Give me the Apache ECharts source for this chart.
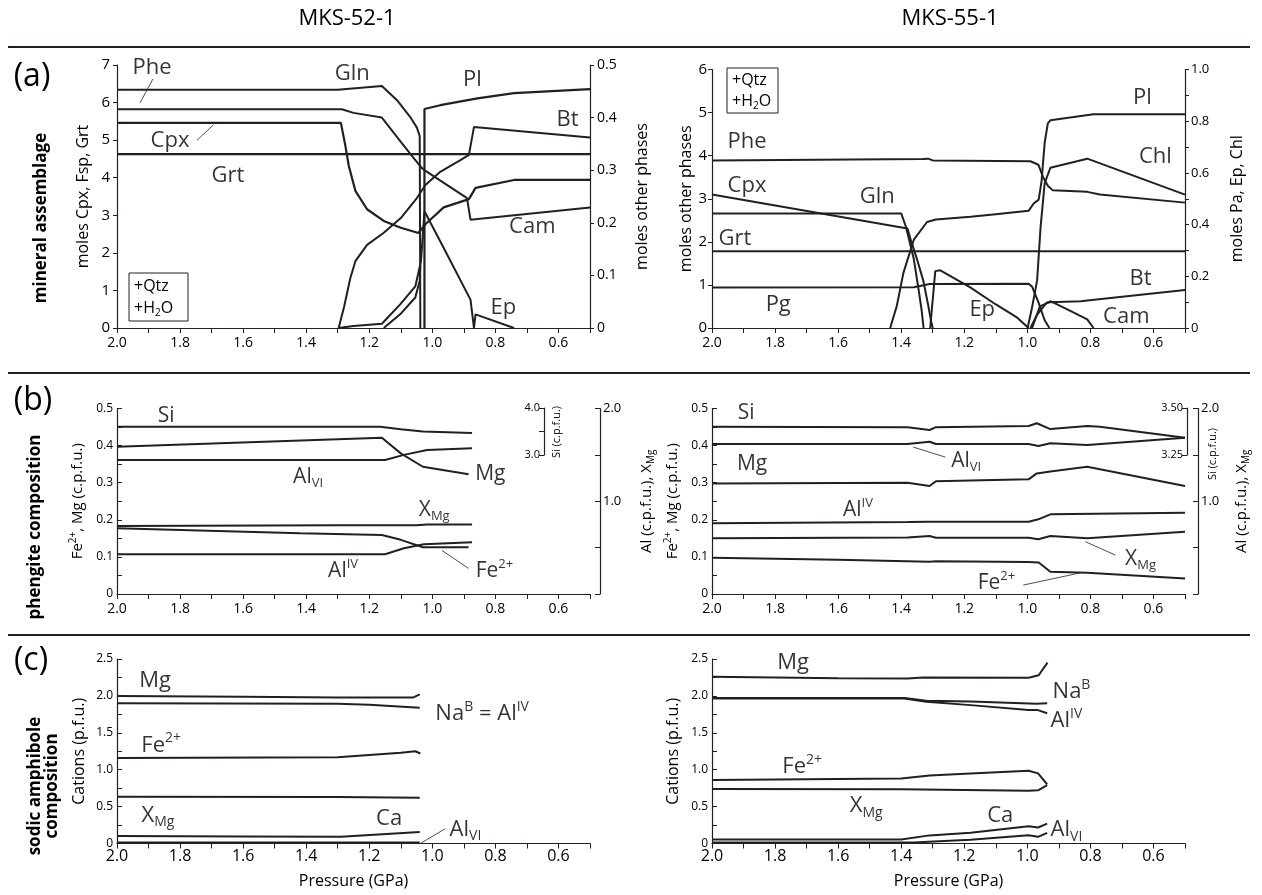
<!DOCTYPE html>
<html>
<head>
<meta charset="utf-8">
<title>MKS-52-1 / MKS-55-1</title>
<script src="https://cdn.jsdelivr.net/npm/echarts@6/dist/echarts.min.js"></script>
<style>
  html, body { margin: 0; padding: 0; background: #fff; }
  #chart { width: 1262px; height: 895px; }
</style>
</head>
<body>
<div id="chart"></div>
<script>
// pressure axis (GPa), shared by every panel
const pressureMin = 0.5;
const pressureMax = 2.0;

// (a) MKS-52-1  -- left axis: moles Cpx, Fsp, Grt / right axis: moles other phases
const a52Grt = [[2.0, 4.63], [0.5, 4.63]];
const a52Cpx = [[2.0, 5.46], [1.29, 5.46], [1.276, 4.86], [1.265, 4.32], [1.244, 3.65], [1.207, 3.16], [1.154, 2.85], [1.10, 2.67], [1.044, 2.53], [1.022, 2.76], [0.964, 3.21], [0.884, 3.43], [0.863, 3.73], [0.741, 3.94], [0.5, 3.94]];
const a52Pl = [[1.025, 0], [1.025, 5.83], [0.975, 5.93], [0.857, 6.11], [0.741, 6.25], [0.5, 6.36]];
const a52Gln = [[2.0, 0.453], [1.30, 0.453], [1.16, 0.46], [1.112, 0.433], [1.07, 0.401], [1.049, 0.381], [1.04, 0.365], [1.038, 0]];
const a52Phe = [[2.0, 0.416], [1.287, 0.416], [1.25, 0.409], [1.16, 0.40], [1.10, 0.354], [1.059, 0.323], [1.033, 0.304], [1.025, 0.30], [0.89, 0.247], [0.879, 0.206], [0.5, 0.229]];
const a52Bt = [[1.297, 0], [1.28, 0.04], [1.26, 0.095], [1.244, 0.127], [1.207, 0.158], [1.154, 0.181], [1.10, 0.209], [1.049, 0.247], [1.022, 0.272], [0.975, 0.297], [0.911, 0.319], [0.884, 0.329], [0.868, 0.382], [0.5, 0.362]];
const a52Cam = [[1.297, 0], [1.25, 0.004], [1.16, 0.008], [1.102, 0.045], [1.054, 0.079], [1.036, 0.127], [1.025, 0.222], [0.975, 0.165], [0.879, 0.054], [0.868, 0]];
const a52Amp = [[1.154, 0], [1.102, 0.026], [1.054, 0.058], [1.04, 0.09], [1.038, 0.12]];
const a52Ep = [[0.868, 0], [0.863, 0.026], [0.741, 0]];
const a52Labels = [[1.889, 6.92, 'Phe'], [1.832, 4.98, 'Cpx'], [1.648, 4.05, 'Grt'], [1.254, 6.76, 'Gln'], [0.873, 6.6, 'Pl'], [0.571, 5.54, 'Bt'], [0.683, 2.69, 'Cam'], [0.775, 0.53, 'Ep']];
const a52Leaders = [[[1.886, 6.63], [1.927, 5.99]], [[1.746, 5.0], [1.695, 5.4]]];

// (a) MKS-55-1  -- left axis: moles other phases / right axis: moles Pa, Ep, Chl
const a55Phe = [[2.0, 3.89], [1.33, 3.92], [1.315, 3.93], [1.30, 3.89], [0.99, 3.87], [0.965, 3.79], [0.95, 3.5], [0.935, 3.3], [0.92, 3.2], [0.81, 3.16], [0.77, 3.1], [0.5, 2.91]];
const a55Cpx = [[2.0, 3.10], [1.38, 2.31], [1.37, 2.05], [1.35, 1.6], [1.33, 1.1], [1.315, 0.55], [1.305, 0.15], [1.30, 0]];
const a55Gln = [[2.0, 2.66], [1.40, 2.66], [1.385, 2.35], [1.36, 1.6], [1.345, 0.9], [1.335, 0.4], [1.329, 0]];
const a55Grt = [[2.0, 1.78], [0.5, 1.78]];
const a55Pl = [[1.435, 0], [1.414, 0.51], [1.393, 1.28], [1.36, 2.05], [1.318, 2.46], [1.29, 2.52], [1.18, 2.58], [1.10, 2.64], [0.996, 2.72], [0.98, 2.89], [0.964, 2.98], [0.955, 3.4], [0.945, 4.3], [0.935, 4.75], [0.927, 4.82], [0.79, 4.96], [0.5, 4.96]];
const a55Bt = [[0.985, 0], [0.96, 0.5], [0.93, 0.6], [0.83, 0.62], [0.81, 0.64], [0.5, 0.88]];
const a55Cam = [[0.99, 0], [0.97, 0.3], [0.94, 0.58], [0.925, 0.62], [0.87, 0.42], [0.81, 0.2], [0.79, 0]];
const a55Pg = [[2.0, 0.157], [1.36, 0.158], [1.31, 0.17], [0.996, 0.171], [0.985, 0.16], [0.965, 0.1], [0.945, 0.03], [0.93, 0]];
const a55Ep = [[1.308, 0], [1.292, 0.22], [1.276, 0.223], [1.181, 0.157], [1.101, 0.092], [1.032, 0.04], [0.996, 0]];
const a55Chl = [[0.999, 0], [0.985, 0.08], [0.969, 0.184], [0.958, 0.39], [0.945, 0.56], [0.927, 0.62], [0.81, 0.655], [0.5, 0.516]];
const a55Labels = [[1.889, 4.32, 'Phe'], [1.889, 3.30, 'Cpx'], [1.476, 3.04, 'Gln'], [1.927, 2.07, 'Grt'], [1.79, 0.53, 'Pg'], [1.143, 0.42, 'Ep'], [0.635, 5.34, 'Pl'], [0.594, 3.97, 'Chl'], [0.641, 1.14, 'Bt'], [0.686, 0.26, 'Cam']];

// (b) phengite, MKS-52-1  -- left: Fe2+, Mg / right: Al, XMg / small axis: Si
const b52Si = [[2.0, 3.60], [1.165, 3.60], [1.10, 3.55], [1.03, 3.50], [0.874, 3.47]];
const b52Mg = [[2.0, 0.397], [1.16, 0.421], [1.10, 0.379], [1.03, 0.343], [0.885, 0.323]];
const b52AlVI = [[2.0, 1.445], [1.15, 1.445], [1.09, 1.50], [1.017, 1.553], [0.874, 1.571]];
const b52XMg = [[2.0, 0.733], [1.30, 0.74], [1.05, 0.74], [1.017, 0.75], [0.874, 0.75]];
const b52Fe = [[2.0, 0.177], [1.419, 0.164], [1.16, 0.159], [1.10, 0.146], [1.03, 0.126], [0.885, 0.126]];
const b52AlIV = [[2.0, 0.428], [1.15, 0.428], [1.09, 0.493], [1.027, 0.536], [0.874, 0.557]];
const b52Labels = [[1.844, 0.48, 'Si'], [1.394, 0.315, 'Al_{VI}'], [0.816, 0.323, 'Mg'], [0.994, 0.226, 'X_{Mg}'], [1.283, 0.062, 'Al^{IV}'], [0.803, 0.062, 'Fe^{2+}']];
const b52Leaders = [[[0.969, 0.117], [0.885, 0.069]]];

// (b) phengite, MKS-55-1
const b55Si = [[2.0, 3.40], [1.38, 3.397], [1.31, 3.383], [1.29, 3.398], [0.996, 3.404], [0.97, 3.419], [0.927, 3.388], [0.81, 3.404], [0.77, 3.40], [0.5, 3.342]];
const b55AlVI = [[2.0, 1.617], [1.38, 1.617], [1.31, 1.642], [1.29, 1.617], [0.996, 1.617], [0.965, 1.596], [0.927, 1.625], [0.81, 1.607], [0.5, 1.685]];
const b55Mg = [[2.0, 0.298], [1.38, 0.30], [1.31, 0.291], [1.29, 0.304], [0.996, 0.309], [0.97, 0.325], [0.927, 0.33], [0.81, 0.343], [0.5, 0.291]];
const b55AlIV = [[2.0, 0.762], [1.38, 0.775], [1.31, 0.778], [0.996, 0.78], [0.965, 0.805], [0.927, 0.859], [0.5, 0.877]];
const b55XMg = [[2.0, 0.60], [1.38, 0.61], [1.31, 0.625], [1.29, 0.607], [0.996, 0.607], [0.965, 0.59], [0.927, 0.625], [0.81, 0.60], [0.5, 0.672]];
const b55Fe = [[2.0, 0.098], [1.6, 0.092], [1.31, 0.087], [1.29, 0.088], [0.996, 0.086], [0.964, 0.085], [0.927, 0.06], [0.81, 0.057], [0.5, 0.042]];
const b55Labels = [[1.892, 0.488, 'Si'], [1.873, 0.35, 'Mg'], [1.537, 0.226, 'Al^{IV}'], [1.194, 0.358, 'Al_{VI}'], [0.641, 0.094, 'X_{Mg}'], [1.098, 0.03, 'Fe^{2+}']];
const b55Leaders = [[[1.362, 0.396], [1.26, 0.369]], [[0.816, 0.141], [0.721, 0.105]], [[1.013, 0.024], [0.832, 0.057]]];
const b55SiLeader = [[0.492, 3.42], [0.429, 3.34]];

// (c) sodic amphibole, cations p.f.u.
const c52Mg = [[2.0, 2.0], [1.6, 1.99], [1.3, 1.98], [1.06, 1.98], [1.04, 2.02]];
const c52NaB = [[2.0, 1.90], [1.3, 1.895], [1.2, 1.88], [1.04, 1.84]];
const c52Fe = [[2.0, 1.16], [1.30, 1.17], [1.20, 1.20], [1.10, 1.23], [1.054, 1.25], [1.038, 1.22]];
const c52XMg = [[2.0, 0.635], [1.3, 0.63], [1.04, 0.62]];
const c52Ca = [[2.0, 0.10], [1.6, 0.095], [1.29, 0.09], [1.04, 0.157]];
const c52AlVI = [[2.0, 0.012], [1.04, 0.012]];
const c52Labels = [[1.879, 2.20, 'Mg'], [1.86, 1.33, 'Fe^{2+}'], [1.87, 0.38, 'X_{Mg}'], [1.137, 0.33, 'Ca'], [0.895, 0.19, 'Al_{VI}'], [0.842, 1.755, 'Na^{B} = Al^{IV}']];
const c52Leaders = [[[1.038, 0.0], [0.959, 0.2]]];

const c55Mg = [[2.0, 2.26], [1.6, 2.24], [1.38, 2.235], [1.33, 2.25], [0.996, 2.247], [0.964, 2.28], [0.936, 2.45]];
const c55NaB = [[2.0, 1.97], [1.39, 1.97], [1.32, 1.935], [1.18, 1.925], [0.97, 1.895], [0.937, 1.9]];
const c55AlIV = [[2.0, 1.965], [1.39, 1.965], [1.32, 1.92], [1.18, 1.875], [0.996, 1.81], [0.969, 1.81], [0.937, 1.764]];
const c55Fe = [[2.0, 0.86], [1.40, 0.88], [1.31, 0.92], [1.18, 0.95], [0.996, 0.985], [0.966, 0.95], [0.937, 0.80]];
const c55XMg = [[2.0, 0.737], [1.4, 0.735], [1.2, 0.725], [0.996, 0.714], [0.966, 0.72], [0.937, 0.79]];
const c55Ca = [[2.0, 0.055], [1.4, 0.055], [1.31, 0.11], [1.18, 0.145], [0.996, 0.235], [0.966, 0.217], [0.937, 0.27]];
const c55AlVI = [[2.0, 0.012], [1.36, 0.012], [1.28, 0.03], [1.18, 0.05], [0.996, 0.113], [0.966, 0.09], [0.937, 0.144]];
const c55Labels = [[1.743, 2.45, 'Mg'], [1.714, 1.04, 'Fe^{2+}'], [1.511, 0.51, 'X_{Mg}'], [1.086, 0.37, 'Ca'], [0.876, 0.18, 'Al_{VI}'], [0.86, 2.05, 'Na^{B}'], [0.876, 1.66, 'Al^{IV}']];

const INK = '#231f20';
const TXT = '#000000';
const FONT = "'Open Sans', 'DejaVu Sans', sans-serif";

// rich text styles: normal, superscript, subscript
function rich(size) {
  const lh = Math.round(size * 1.25);
  const small = Math.round(size * 0.64);
  return {
    m: {fontFamily: FONT, fontSize: size, color: TXT, lineHeight: lh},
    sup: {fontFamily: FONT, fontSize: small, color: TXT, lineHeight: Math.round(size * 0.72), verticalAlign: 'top'},
    sub: {fontFamily: FONT, fontSize: small, color: TXT, lineHeight: Math.round(size * 0.72), verticalAlign: 'bottom'}
  };
}

// 'Al_{VI}' / 'Fe^{2+}' -> rich markup
function rt(s) {
  const out = '{m|' + s
    .replace(/\^\{([^}]*)\}/g, '}{sup|$1}{m|')
    .replace(/_\{([^}]*)\}/g, '}{sub|$1}{m|') + '}';
  return out.replace(/\{m\|\}/g, '');
}

const oneDec = v => (v === 0 ? '0' : v.toFixed(1));
const onTenth = v => Math.abs(v * 10 - Math.round(v * 10)) < 1e-6;
const onHalf = v => Math.abs(v * 2 - Math.round(v * 2)) < 1e-6;

const grids = [
  {left: 117, top: 65, width: 473, height: 263},
  {left: 712, top: 69.5, width: 473, height: 258.5},
  {left: 117, top: 408.5, width: 473, height: 185.5},
  {left: 712, top: 408.5, width: 473, height: 185.5},
  {left: 117, top: 659, width: 473, height: 184.5},
  {left: 712, top: 659, width: 473, height: 184.5},
  {left: 117, top: 408, width: 473, height: 47},
  {left: 712, top: 408, width: 473, height: 47}
].map(g => Object.assign({outerBoundsMode: 'none', containLabel: false}, g));

function xAx(grid, fontSize, name) {
  return {
    type: 'value', gridIndex: grid, min: pressureMin, max: pressureMax, interval: 0.1, inverse: true,
    name: name || '', nameLocation: 'middle', nameGap: 30,
    nameTextStyle: {fontFamily: FONT, fontSize: 16, color: TXT},
    axisLine: {onZero: false, lineStyle: {color: INK, width: 1.2}},
    axisTick: {length: 5, lineStyle: {color: INK, width: 1}},
    axisLabel: {
      color: TXT, fontFamily: FONT, fontSize: fontSize, margin: fontSize > 14 ? 5 : 8,
      formatter: v => (Math.round(v * 10) % 2 === 0 ? v.toFixed(1) : '')
    },
    splitLine: {show: false}
  };
}

function hiddenX(grid) {
  return {type: 'value', gridIndex: grid, min: pressureMin, max: pressureMax, inverse: true, show: false};
}

function yAx(o) {
  return {
    type: 'value', gridIndex: o.grid, position: o.pos || 'left', min: o.min, max: o.max, interval: o.step,
    offset: o.offset || 0,
    name: o.name ? rt(o.name) : '', nameLocation: 'middle', nameGap: o.gap || 30,
    nameTextStyle: {rich: rich(o.nameSize || 15)},
    axisLine: {show: true, onZero: false, lineStyle: {color: INK, width: 1.2}},
    axisTick: {show: true, inside: !!o.inside, length: o.tick || 5, lineStyle: {color: INK, width: 1}},
    axisLabel: {color: TXT, fontFamily: FONT, fontSize: o.fs || 13, margin: o.margin || 6, formatter: o.fmt},
    splitLine: {show: false}
  };
}

const xAxes = [
  xAx(0, 14), xAx(1, 14), xAx(2, 14), xAx(3, 14),
  xAx(4, 16, 'Pressure (GPa)'), xAx(5, 16, 'Pressure (GPa)'),
  hiddenX(6), hiddenX(7)
];

const yAxes = [
  yAx({grid: 0, min: 0, max: 7, step: 1, name: 'moles Cpx, Fsp, Grt', nameSize: 16, gap: 24, fs: 15, margin: 7, tick: 4, fmt: v => String(v)}),
  yAx({grid: 0, pos: 'right', min: 0, max: 0.5, step: 0.1, name: 'moles other phases', nameSize: 16, gap: 42, fs: 14, margin: 7, tick: 4, fmt: oneDec}),
  yAx({grid: 1, min: 0, max: 6, step: 1, name: 'moles other phases', nameSize: 16, gap: 14, fs: 15, margin: 5, tick: 4, fmt: v => String(v)}),
  yAx({grid: 1, pos: 'right', min: 0, max: 1, step: 0.1, name: 'moles Pa, Ep, Chl', nameSize: 16, gap: 42, fs: 13, margin: 6, tick: 4,
    fmt: v => (Math.round(v * 10) % 2 === 0 ? oneDec(v) : '')}),
  yAx({grid: 2, min: 0, max: 0.5, step: 0.05, name: 'Fe^{2+}, Mg (c.p.f.u.)', gap: 30, inside: true, margin: 4, fs: 12,
    fmt: v => (onTenth(v) ? oneDec(v) : '')}),
  yAx({grid: 2, pos: 'right', offset: 10, min: 0, max: 2, step: 0.5, name: 'Al (c.p.f.u.), X_{Mg}', gap: 37, inside: true, margin: 3, fs: 13,
    fmt: v => (v === 1 || v === 2 ? v.toFixed(1) : '')}),
  yAx({grid: 3, min: 0, max: 0.5, step: 0.05, name: 'Fe^{2+}, Mg (c.p.f.u.)', gap: 30, inside: true, margin: 4, fs: 12,
    fmt: v => (onTenth(v) ? oneDec(v) : '')}),
  yAx({grid: 3, pos: 'right', offset: 13, min: 0, max: 2, step: 0.5, name: 'Al (c.p.f.u.), X_{Mg}', gap: 34, inside: true, margin: 3, fs: 13,
    fmt: v => (v === 1 || v === 2 ? v.toFixed(1) : '')}),
  yAx({grid: 4, min: 0, max: 2.5, step: 0.25, name: 'Cations (p.f.u.)', nameSize: 16, gap: 28, inside: true, margin: 4, fs: 12,
    fmt: v => (onHalf(v) ? oneDec(v) : '')}),
  yAx({grid: 5, min: 0, max: 2.5, step: 0.25, name: 'Cations (p.f.u.)', nameSize: 16, gap: 29, inside: true, margin: 4, fs: 12,
    fmt: v => (onHalf(v) ? oneDec(v) : '')}),
  yAx({grid: 6, offset: -427, min: 3, max: 4, step: 0.5, fs: 11, margin: 4, tick: 5,
    fmt: v => (v === 3 || v === 4 ? v.toFixed(1) : '')}),
  yAx({grid: 7, offset: -475, min: 3.25, max: 3.5, step: 0.25, fs: 11, margin: 4, tick: 5,
    fmt: v => v.toFixed(2)})
];

const series = [];

function addLines(xi, yi, list, width) {
  list.forEach(data => {
    series.push({
      type: 'line', xAxisIndex: xi, yAxisIndex: yi, data: data, symbol: 'none', silent: true,
      animation: false, clip: false, lineStyle: {color: INK, width: width || 2}
    });
  });
}

function addLabels(xi, yi, list, size) {
  series.push({
    type: 'scatter', xAxisIndex: xi, yAxisIndex: yi, symbolSize: 1, silent: true, animation: false, z: 10,
    itemStyle: {color: 'rgba(0,0,0,0)'},
    data: list.map(d => ({value: [d[0], d[1]], name: d[2]})),
    label: {show: true, position: 'inside', align: 'center', verticalAlign: 'middle',
      formatter: p => rt(p.name), rich: rich(size)}
  });
}

// (a)
addLines(0, 0, [a52Grt, a52Cpx, a52Pl], 2.2);
addLines(0, 1, [a52Gln, a52Phe, a52Bt, a52Cam, a52Amp, a52Ep]);
addLines(0, 0, a52Leaders, 0.8);
addLabels(0, 0, a52Labels, 22);

addLines(1, 2, [a55Phe, a55Cpx, a55Gln, a55Grt, a55Pl, a55Bt, a55Cam]);
addLines(1, 3, [a55Pg, a55Ep, a55Chl]);
addLabels(1, 2, a55Labels, 22);

// (b)
addLines(6, 10, [b52Si]);
addLines(2, 4, [b52Mg, b52Fe]);
addLines(2, 5, [b52AlVI, b52XMg, b52AlIV]);
addLines(2, 4, b52Leaders, 0.8);
addLabels(2, 4, b52Labels, 21);

addLines(7, 11, [b55Si]);
addLines(3, 6, [b55Mg, b55Fe]);
addLines(3, 7, [b55AlVI, b55XMg, b55AlIV]);
addLines(3, 6, b55Leaders, 0.8);
addLines(7, 11, [b55SiLeader], 0.8);
addLabels(3, 6, b55Labels, 21);

// (c)
addLines(4, 8, [c52Mg, c52NaB, c52Fe, c52XMg, c52Ca, c52AlVI]);
addLines(4, 8, c52Leaders, 0.8);
addLabels(4, 8, c52Labels, 22);

addLines(5, 9, [c55Mg, c55NaB, c55AlIV, c55Fe, c55XMg, c55Ca, c55AlVI]);
addLabels(5, 9, c55Labels, 22);

function txt(x, y, text, size, opts) {
  const o = opts || {};
  return {
    type: 'text', x: x, y: y, rotation: o.rot || 0, silent: true,
    style: {
      text: text, fill: TXT, font: (o.bold ? 'bold ' : '') + size + 'px ' + FONT,
      textAlign: o.align || 'center', textVerticalAlign: 'middle', lineHeight: o.lh || size * 1.1,
      rich: o.rich
    }
  };
}

function rule(y) {
  return {type: 'line', silent: true, shape: {x1: 8, y1: y, x2: 1250, y2: y}, style: {stroke: INK, lineWidth: 2}};
}

function box(x, y, w, h) {
  return [
    {type: 'rect', silent: true, shape: {x: x, y: y, width: w, height: h}, style: {fill: 'none', stroke: INK, lineWidth: 1}},
    txt(x + 5, y + h * 0.27, '+Qtz', 16, {align: 'left'}),
    txt(x + 5, y + h * 0.74, '{m|+H}{sub|2}{m|O}', 16, {align: 'left', rich: rich(16)})
  ];
}

const VERT = Math.PI / 2;
const graphics = [
  rule(47), rule(373), rule(635),
  txt(347, 19, 'MKS-52-1', 22),
  txt(950, 19, 'MKS-55-1', 22),
  txt(32, 77, '(a)', 32),
  txt(33, 401, '(b)', 32),
  txt(31, 661, '(c)', 32),
  txt(41, 218, 'mineral assemblage', 17, {bold: true, rot: VERT}),
  txt(35, 527, 'phengite composition', 17, {bold: true, rot: VERT}),
  txt(44, 786, 'sodic amphibole\ncomposition', 17, {bold: true, rot: VERT, lh: 17}),
  txt(557, 432, 'Si (c.p.f.u.)', 11, {rot: VERT}),
  txt(1213, 454, 'Si (c.p.f.u.)', 11, {rot: VERT})
].concat(box(129, 273, 59, 48), box(727, 68, 51, 45));

const chart = echarts.init(document.getElementById('chart'), null, {renderer: 'canvas'});
chart.setOption({
  animation: false,
  backgroundColor: '#ffffff',
  textStyle: {fontFamily: FONT},
  grid: grids,
  xAxis: xAxes,
  yAxis: yAxes,
  series: series,
  graphic: graphics
});
</script>
</body>
</html>
